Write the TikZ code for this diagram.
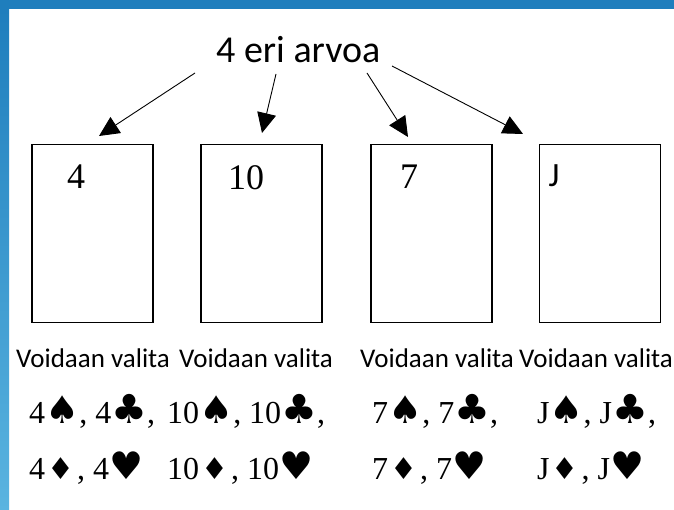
\documentclass[tikz,border=0pt]{standalone}
\usepackage{fontspec}
\setmainfont{Liberation Serif}
\newfontfamily\slidefont{Carlito}
\newfontfamily\suitfont{DejaVu Sans}
\usetikzlibrary{arrows.meta}
\usetikzlibrary{positioning}
\definecolor{slideblue}{HTML}{1F7EBD}
\definecolor{slidelight}{HTML}{5AB4E0}
\newcommand\suitS{{\suitfont\fontsize{38}{40}\selectfont\char"2660}}
\newcommand\suitC{{\suitfont\fontsize{40}{40}\selectfont\char"2663}}
\newcommand\suitD{\kern2pt{\suitfont\fontsize{30}{40}\selectfont\char"2666}\kern3pt}
\newcommand\suitH{{\suitfont\fontsize{38}{40}\selectfont\char"2665}}

\begin{document}
\begin{tikzpicture}[x=1pt,y=-1pt,
>={Triangle[length=20pt,width=19pt]},
card/.style = {rectangle, draw=black, line width=1.6pt, minimum width=121pt, minimum height=178pt, inner sep=0pt},
cardval/.style = {inner sep=0pt, font=\fontsize{36}{40}\selectfont},
choice/.style = {anchor=base west, inner sep=0pt, font=\slidefont\fontsize{27}{30}\selectfont},
hand/.style = {anchor=base west, inner sep=0pt, font=\fontsize{32}{36}\selectfont},
pick/.style = {->, line width=0.9pt}
]
\useasboundingbox (0,0) rectangle (674,510);
\fill[white] (0,0) rectangle (674,510);
% slide frame
\fill[slideblue] (0,0) rectangle (674,9);
\shade[top color=slideblue, bottom color=slidelight] (0,9) rectangle (9,510);

\node (title) [anchor=base west, inner sep=0pt, font=\slidefont\fontsize{38}{42}\selectfont] at (216,63) {4 eri arvoa};

\node (c1) [card] at (92.5,233.5) {};
\node (c2) [card, right=46.5pt of c1] {};
\node (c3) [card, right=47.5pt of c2] {};
\node (c4) [card, right=45.5pt of c3] {};

\node (v1) [cardval] at (76,177) {4};
\node (v2) [cardval] at (246,178) {10};
\node (v3) [cardval] at (409,177) {7};
\node (v4) [cardval, font=\slidefont\fontsize{34}{38}\selectfont] at (554,176) {J};

\coordinate (s1) at (195,73);
\coordinate (s2) at (276,74);
\coordinate (s3) at (367,73);
\coordinate (s4) at (392,66);
\coordinate (t1) at (99,136);
\coordinate (t2) at (262,133);
\coordinate (t3) at (408,137);
\coordinate (t4) at (523,134);
\draw[pick] (s1) -- (t1);
\draw[pick] (s2) -- (t2);
\draw[pick] (s3) -- (t3);
\draw[pick] (s4) -- (t4);

\node (l1) [choice] at (16,367) {Voidaan valita};
\node (l2) [choice] at (179,367) {Voidaan valita};
\node (l3) [choice] at (360,367) {Voidaan valita};
\node (l4) [choice] at (519,367) {Voidaan valita};

\node (a1) [hand] at (29,423) {4\suitS, 4\suitC,};
\node (a2) [hand] at (167,423) {10\suitS, 10\suitC,};
\node (a3) [hand] at (372,423) {7\suitS, 7\suitC,};
\node (a4) [hand] at (537,423) {J\suitS, J\suitC,};

\node (b1) [hand] at (29,479) {4\suitD, 4\suitH};
\node (b2) [hand] at (167,479) {10\suitD, 10\suitH};
\node (b3) [hand] at (372,479) {7\suitD, 7\suitH};
\node (b4) [hand] at (537,479) {J\suitD, J\suitH};
\end{tikzpicture}
\end{document}
